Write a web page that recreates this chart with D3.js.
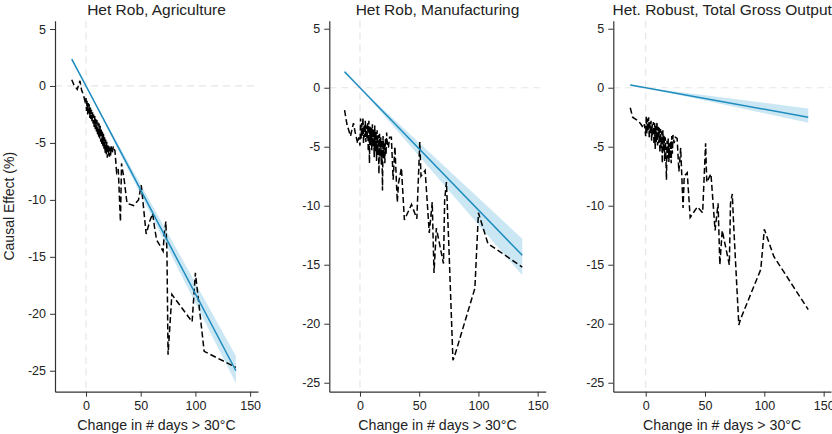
<!DOCTYPE html>
<html>
<head>
<meta charset="utf-8">
<script src="https://cdn.jsdelivr.net/npm/d3@7"></script>
<style>
  html, body { margin: 0; padding: 0; background: #fff; }
  svg { display: block; font-family: "Liberation Sans", Arial, Helvetica, sans-serif; }
</style>
</head>
<body>
<svg id="chart" width="832" height="434"></svg>
<script>
// ---------------- DATA ----------------
const titles = ["Het Rob, Agriculture", "Het Rob, Manufacturing", "Het. Robust, Total Gross Output"];
const xTitle = "Change in # days > 30°C";
const yTitle = "Causal Effect (%)";
const xTickValues = [0, 50, 100, 150];
const yTickValues = [5, 0, -5, -10, -15, -20, -25];

// change in number of days > 30°C (shared across panels)
const xDays = [
  -13, -11, -8, -5.5, -4, -2, -1,
  0, 0.5, 1, 1.5, 2, 2.5, 3, 3.5, 4, 4.5, 5, 5.5, 6, 6.5, 7, 7.5, 8, 8.5, 9, 9.5,
  10, 10.5, 11, 11.5, 12, 12.5, 13, 13.5, 14, 14.5, 15, 15.5, 16, 16.5, 17, 17.5,
  18, 18.5, 19, 19.5, 20, 20.5, 21, 21.5, 22, 22.5, 23, 24, 25,
  26.5, 28, 29.5, 31.5, 32.5, 35, 37.5, 43.5, 48, 50.5, 51.5, 55, 58.5, 61, 62.5,
  64.5, 70.5, 71.5, 73, 74, 75, 78.5, 80, 97, 100, 108, 137
];

const yAgri = [
  0.55, 0.1, -0.3, 0.45, -0.35, -0.9, -1.3,
  -1.0, -2.2, -1.3, -2.5, -1.5, -2.4, -1.6, -2.8, -1.9, -2.9, -2.1, -3.2, -2.3, -3.3, -2.5, -3.6, -2.6, -3.8, -2.9, -4.0,
  -3.0, -4.3, -3.2, -4.5, -3.3, -4.6, -3.5, -4.9, -3.7, -5.1, -4.0, -5.3, -4.2, -5.6, -4.5, -5.9,
  -4.7, -6.0, -4.9, -6.3, -5.1, -6.1, -5.3, -6.2, -5.4, -6.1, -5.3, -5.9, -5.3,
  -5.7, -7.6, -7.3, -11.9, -6.8, -8.3, -10.3, -10.5, -10.0, -8.7, -9.6, -13.0, -11.8, -11.2, -12.3,
  -13.5, -14.5, -13.0, -11.9, -14.6, -23.6, -18.3, -18.5, -20.7, -16.4, -23.3, -24.7
];

const yManu = [
  -1.9, -3.1, -4.1, -3.0, -3.8, -4.7, -4.2,
  -4.9, -2.6, -4.3, -3.0, -4.1, -2.5, -4.7, -3.1, -4.2, -2.8, -4.6, -3.2, -4.4, -3.0, -5.4, -2.8, -6.4, -3.3, -4.9, -3.4,
  -5.3, -3.1, -5.0, -3.5, -5.9, -3.2, -5.4, -3.7, -6.2, -3.6, -5.7, -4.0, -7.3, -3.9, -5.9, -4.2,
  -6.5, -4.4, -8.7, -4.1, -6.0, -4.6, -6.4, -4.3, -5.7, -3.8, -4.6, -5.1, -4.2,
  -4.2, -7.8, -5.0, -9.7, -8.1, -6.8, -11.2, -9.9, -11.1, -4.6, -7.5, -7.0, -12.3, -9.7, -15.7,
  -11.9, -14.9, -9.5, -8.0, -10.7, -13.3, -23.1, -22.7, -17.0, -10.6, -13.2, -15.2
];

const yTotal = [
  -1.7, -2.5, -2.7, -2.9, -3.1, -3.4, -3.1,
  -4.1, -2.4, -3.9, -2.6, -3.7, -2.5, -4.3, -2.9, -3.9, -2.8, -4.5, -3.1, -4.1, -2.9, -4.8, -3.0, -5.2, -3.2, -4.6, -2.9,
  -4.9, -3.3, -4.7, -3.4, -5.5, -3.5, -5.1, -3.7, -6.4, -3.6, -5.4, -4.0, -6.2, -4.2, -5.7, -7.8,
  -4.5, -6.0, -4.3, -6.3, -4.7, -6.0, -4.5, -6.4, -4.1, -5.6, -4.0, -4.7, -4.2,
  -4.3, -7.1, -5.1, -10.2, -7.5, -7.2, -11.0, -10.1, -10.6, -4.7, -8.0, -7.3, -12.1, -9.8, -15.0,
  -12.1, -15.0, -9.8, -9.0, -11.3, -13.3, -20.1, -19.6, -15.4, -12.0, -14.3, -18.8
];

// linear fit and confidence band, read at x = -13, 0, 137
const fitX = [-13, 0, 137];
const fitAgri = [2.35, 0, -25.0];
const fitManu = [1.35, 0, -14.2];
const fitTotal = [0.24, 0, -2.5];
const ciLoAgri = [2.2, 0, -26.1];
const ciHiAgri = [2.5, 0, -23.7];
const ciLoManu = [1.2, 0, -15.9];
const ciHiManu = [1.5, 0, -12.8];
const ciLoTotal = [0.17, 0, -2.97];
const ciHiTotal = [0.3, 0, -1.75];

// ---------------- LAYOUT ----------------
const plotTop = 20.7, plotBottom = 391.7;
const panels = [
  { title: titles[0], y: yAgri, fit: fitAgri, lo: ciLoAgri, hi: ciHiAgri,
    left: 55, right: 258, xDom: [-28.3, 157.2], yDom: [-26.84, 5.73], yLabel: true },
  { title: titles[1], y: yManu, fit: fitManu, lo: ciLoManu, hi: ciHiManu,
    left: 329.3, right: 545.7, xDom: [-25.9, 156.8], yDom: [-25.76, 5.68] },
  { title: titles[2], y: yTotal, fit: fitTotal, lo: ciLoTotal, hi: ciHiTotal,
    left: 613.3, right: 831, xDom: [-27.3, 156.2], yDom: [-25.76, 5.68] }
];

const svg = d3.select("#chart");
const textCol = "#222";
const axisCol = "#333";

panels.forEach(p => {
  const x = d3.scaleLinear().domain(p.xDom).range([p.left, p.right]);
  const y = d3.scaleLinear().domain(p.yDom).range([plotBottom, plotTop]);
  const g = svg.append("g");

  // reference lines
  g.append("line")
    .attr("x1", p.left).attr("x2", p.right)
    .attr("y1", y(0)).attr("y2", y(0))
    .attr("stroke", "#e6e6e6").attr("stroke-width", 1.2)
    .attr("stroke-dasharray", "7,5");
  g.append("line")
    .attr("x1", x(0)).attr("x2", x(0))
    .attr("y1", plotTop).attr("y2", plotBottom)
    .attr("stroke", "#e6e6e6").attr("stroke-width", 1.2)
    .attr("stroke-dasharray", "7,5");

  // confidence band
  const band = fitX.map((d, i) => ({ x: d, lo: p.lo[i], hi: p.hi[i] }));
  g.append("path")
    .datum(band)
    .attr("fill", "#b9dff0")
    .attr("fill-opacity", 0.75)
    .attr("d", d3.area().x(d => x(d.x)).y0(d => y(d.lo)).y1(d => y(d.hi)));

  // dashed empirical line
  const pts = xDays.map((d, i) => ({ x: d, y: p.y[i] }));
  g.append("path")
    .datum(pts)
    .attr("fill", "none")
    .attr("stroke", "#000")
    .attr("stroke-width", 1.5)
    .attr("stroke-dasharray", "6,3")
    .attr("d", d3.line().x(d => x(d.x)).y(d => y(d.y)));

  // fit line
  const fit = fitX.map((d, i) => ({ x: d, y: p.fit[i] }));
  g.append("path")
    .datum(fit)
    .attr("fill", "none")
    .attr("stroke", "#1f8cbf")
    .attr("stroke-width", 1.5)
    .attr("d", d3.line().x(d => x(d.x)).y(d => y(d.y)));

  // axes
  const yAxis = d3.axisLeft(y).tickValues(yTickValues).tickSize(5).tickPadding(4)
    .tickSizeOuter(0).tickFormat(d => String(d));
  const ya = g.append("g").attr("transform", `translate(${p.left},0)`).call(yAxis);
  const xAxis = d3.axisBottom(x).tickValues(xTickValues).tickSize(5).tickPadding(4)
    .tickSizeOuter(0).tickFormat(d => String(d));
  const xa = g.append("g").attr("transform", `translate(0,${plotBottom})`).call(xAxis);
  [ya, xa].forEach(a => {
    a.select(".domain").attr("stroke", axisCol).attr("stroke-width", 1.2);
    a.selectAll(".tick line").attr("stroke", axisCol).attr("stroke-width", 1);
    a.selectAll(".tick text").attr("fill", textCol)
      .style("font-size", "12.5px")
      .style("font-family", "'Liberation Sans', Arial, sans-serif");
  });

  // title
  g.append("text")
    .attr("x", (p.left + p.right) / 2).attr("y", 15)
    .attr("text-anchor", "middle")
    .attr("fill", textCol)
    .style("font-size", "15.5px")
    .text(p.title);

  // x title
  g.append("text")
    .attr("x", (p.left + p.right) / 2).attr("y", 430)
    .attr("text-anchor", "middle")
    .attr("fill", textCol)
    .style("font-size", "14.2px")
    .text(xTitle);

  if (p.yLabel) {
    g.append("text")
      .attr("transform", `translate(14,${(plotTop + plotBottom) / 2}) rotate(-90)`)
      .attr("text-anchor", "middle")
      .attr("fill", textCol)
      .style("font-size", "14px")
      .text(yTitle);
  }
});
</script>
</body>
</html>
